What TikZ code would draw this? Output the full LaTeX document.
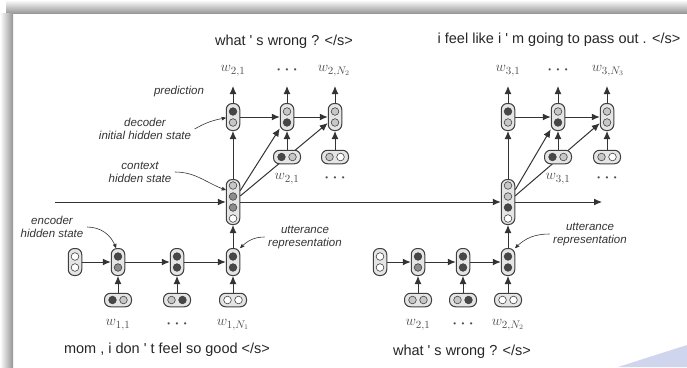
\documentclass[tikz,border=0pt]{standalone}
\usepackage{fontspec}
\setmainfont{Liberation Sans}
\usepackage{amsmath,amssymb}
\usepackage{color}
\usetikzlibrary{arrows,arrows.meta}

\definecolor{slideblue}{RGB}{208,213,238}
\colorlet{cellwhite}{white}
\colorlet{celllight}{black!22}
\colorlet{cellmid}{black!45}
\colorlet{celldark}{black!72}

\newcommand{\statetwo}[4]{% name, position, upper, lower
  \node[vcell, minimum height=27pt] (#1) at (#2) {};
  \filldraw[dot, fill=#3] ([yshift=5.5pt]#1.center) circle (3.8pt);
  \filldraw[dot, fill=#4] ([yshift=-5.5pt]#1.center) circle (3.8pt);
}
\newcommand{\statefour}[6]{% name, position, fills from top to bottom
  \node[vcell, minimum height=45pt] (#1) at (#2) {};
  \filldraw[dot, fill=#3] ([yshift=16.5pt]#1.center) circle (3.8pt);
  \filldraw[dot, fill=#4] ([yshift=5.5pt]#1.center) circle (3.8pt);
  \filldraw[dot, fill=#5] ([yshift=-5.5pt]#1.center) circle (3.8pt);
  \filldraw[dot, fill=#6] ([yshift=-16.5pt]#1.center) circle (3.8pt);
}
\newcommand{\wordtwo}[4]{% name, position, left, right
  \node[hcell, minimum width=27pt] (#1) at (#2) {};
  \filldraw[dot, fill=#3] ([xshift=-5.5pt]#1.center) circle (3.8pt);
  \filldraw[dot, fill=#4] ([xshift=5.5pt]#1.center) circle (3.8pt);
}
\newcommand{\wdots}{{\fontsize{8}{8}\selectfont\textbullet\hspace{5.5pt}\textbullet\hspace{5.5pt}\textbullet}}
\newcommand{\q}{\textquotesingle}

\begin{document}
\begin{tikzpicture}[x=1pt, y=-1pt, >={Latex[length=8pt, width=7pt]}]
		\useasboundingbox (0,0) rectangle (687,367);
		% slide shadow and corner
		\shade[top color=white, bottom color=black!40] (6,0) rectangle (687,13);
		\shade[left color=white, right color=black!42] (0,13) rectangle (13,367);
		\fill[slideblue] (618,367) -- (687,345) -- (687,367) -- cycle;

		\tikzstyle{vcell} = [draw=black!75, fill=black!10, line width=1pt, rounded corners=6pt, minimum width=13.5pt, inner sep=0pt]
		\tikzstyle{hcell} = [draw=black!75, fill=black!10, line width=1pt, rounded corners=6pt, minimum height=13.5pt, inner sep=0pt]
		\tikzstyle{dot} = [draw=black!75, line width=0.6pt]
		\tikzstyle{link} = [->, line width=1pt, black!80]
		\tikzstyle{note} = [-stealth', line width=0.6pt, black!80]
		\tikzstyle{annot} = [font=\fontsize{11.5}{13}\selectfont\itshape, align=center, text=black!80]
		\tikzstyle{sent} = [font=\fontsize{14.5}{16}\selectfont, text=black!85]
		\tikzstyle{word} = [font=\fontsize{15}{17}\selectfont, text=black!70]

		% first utterance, encoder
		\statetwo{i1}{75,262}{cellwhite}{cellwhite}
		\statetwo{e11}{118,262}{celldark}{cellmid}
		\statetwo{e12}{177,262}{celldark}{celldark}
		\statetwo{e13}{233,262}{celldark}{celldark}
		\wordtwo{x11}{118,300}{celldark}{celllight}
		\wordtwo{x12}{177,300}{celllight}{celldark}
		\wordtwo{x13}{233,300}{cellwhite}{cellwhite}
		\draw[link] (i1) -- (e11);
		\draw[link] (e11) -- (e12);
		\draw[link] (e12) -- (e13);
		\draw[link] (x11) -- (e11);
		\draw[link] (x12) -- (e12);
		\draw[link] (x13) -- (e13);
		\node[word] (w11) at (118,325) {$w_{1,1}$};
		\node[word] (w12) at (177,325) {\wdots};
		\node[word] (w13) at (233,325) {$w_{1,N_1}$};
		\node[sent] (s1) at (167,350) {mom , i don \q{} t feel so good </s>};

		% second utterance, encoder
		\statetwo{i2}{380,262}{cellwhite}{cellwhite}
		\statetwo{e21}{418,262}{celldark}{cellmid}
		\statetwo{e22}{463,262}{celldark}{celldark}
		\statetwo{e23}{508,262}{celldark}{celldark}
		\wordtwo{x21}{418,300}{celllight}{celllight}
		\wordtwo{x22}{463,300}{celllight}{celldark}
		\wordtwo{x23}{508,300}{cellwhite}{cellwhite}
		\draw[link] (i2) -- (e21);
		\draw[link] (e21) -- (e22);
		\draw[link] (e22) -- (e23);
		\draw[link] (x21) -- (e21);
		\draw[link] (x22) -- (e22);
		\draw[link] (x23) -- (e23);
		\node[word] (w21) at (418,325) {$w_{2,1}$};
		\node[word] (w22) at (463,325) {\wdots};
		\node[word] (w23) at (508,325) {$w_{2,N_2}$};
		\node[sent] (s2) at (462,352) {what \q{} s wrong ? </s>};

		% context
		\statefour{c1}{233,202}{celllight}{cellmid}{cellmid}{cellwhite}
		\statefour{c2}{508,202}{celllight}{celllight}{celldark}{cellwhite}
		\coordinate (in) at (55,202);
		\coordinate (out) at (602,202);
		\draw[link] (in) -- (c1);
		\draw[link] (c1) -- (c2);
		\draw[link] (c2) -- (out);
		\draw[link] (e13) -- (c1);
		\draw[link] (e23) -- (c2);

		% decoders
		\statetwo{d11}{233,117}{celldark}{celllight}
		\statetwo{d12}{287,117}{celllight}{celldark}
		\statetwo{d13}{335,117}{celllight}{celllight}
		\statetwo{d21}{508,117}{celldark}{celllight}
		\statetwo{d22}{558,117}{celllight}{celldark}
		\statetwo{d23}{607,117}{celllight}{celllight}
		\draw[link] (c1) -- (d11);
		\draw[link] (c1) -- (d12);
		\draw[link] (c1) -- (d13);
		\draw[link] (c2) -- (d21);
		\draw[link] (c2) -- (d22);
		\draw[link] (c2) -- (d23);
		\draw[link] (d11) -- (d12);
		\draw[link] (d12) -- (d13);
		\draw[link] (d21) -- (d22);
		\draw[link] (d22) -- (d23);
		\wordtwo{y12}{287,157}{celldark}{celllight}
		\wordtwo{y13}{335,157}{celllight}{cellwhite}
		\wordtwo{y22}{558,157}{celldark}{celllight}
		\wordtwo{y23}{607,157}{celllight}{cellwhite}
		\draw[link] (y12) -- (d12);
		\draw[link] (y13) -- (d13);
		\draw[link] (y22) -- (d22);
		\draw[link] (y23) -- (d23);
		\node[word] (v12) at (287,179) {$w_{2,1}$};
		\node[word] (v13) at (335,179) {\wdots};
		\node[word] (v22) at (558,179) {$w_{3,1}$};
		\node[word] (v23) at (607,179) {\wdots};

		% predictions
		\coordinate (o11) at (233,86);
		\coordinate (o12) at (287,86);
		\coordinate (o13) at (335,86);
		\coordinate (o21) at (508,86);
		\coordinate (o22) at (558,86);
		\coordinate (o23) at (607,86);
		\draw[link] (d11) -- (o11);
		\draw[link] (d12) -- (o12);
		\draw[link] (d13) -- (o13);
		\draw[link] (d21) -- (o21);
		\draw[link] (d22) -- (o22);
		\draw[link] (d23) -- (o23);
		\node[word] (p11) at (233,71) {$w_{2,1}$};
		\node[word] (p12) at (287,71) {\wdots};
		\node[word] (p13) at (334,71) {$w_{2,N_2}$};
		\node[word] (p21) at (508,71) {$w_{3,1}$};
		\node[word] (p22) at (558,71) {\wdots};
		\node[word] (p23) at (608,71) {$w_{3,N_3}$};
		\node[sent] (s3) at (284,42) {what \q{} s wrong ? </s>};
		\node[sent] (s4) at (559,40) {i feel like i \q{} m going to pass out . </s>};

		% annotations
		\node[annot] (pred) at (179,92) {prediction};
		\node[annot] (dinit) at (145,129) {decoder\\initial hidden state};
		\node[annot] (chid) at (140,172) {context\\hidden state};
		\node[annot] (ehid) at (52,227) {encoder\\hidden state};
		\node[annot] (urep1) at (305,237) {utterance\\representation};
		\node[annot] (urep2) at (590,234) {utterance\\representation};
		\draw[note] (dinit.east) to[bend left=10] (d11);
		\draw[note] (chid.east) to[out=0, in=160] ([yshift=12pt]c1.west);
		\draw[note] (ehid.east) to[out=0, in=110] ([xshift=-2pt]e11.north);
		\draw[note] (urep1.west) to[out=180, in=45] (e13.north east);
		\draw[note] (urep2.west) to[out=180, in=45] (e23.north east);
\end{tikzpicture}
\end{document}
